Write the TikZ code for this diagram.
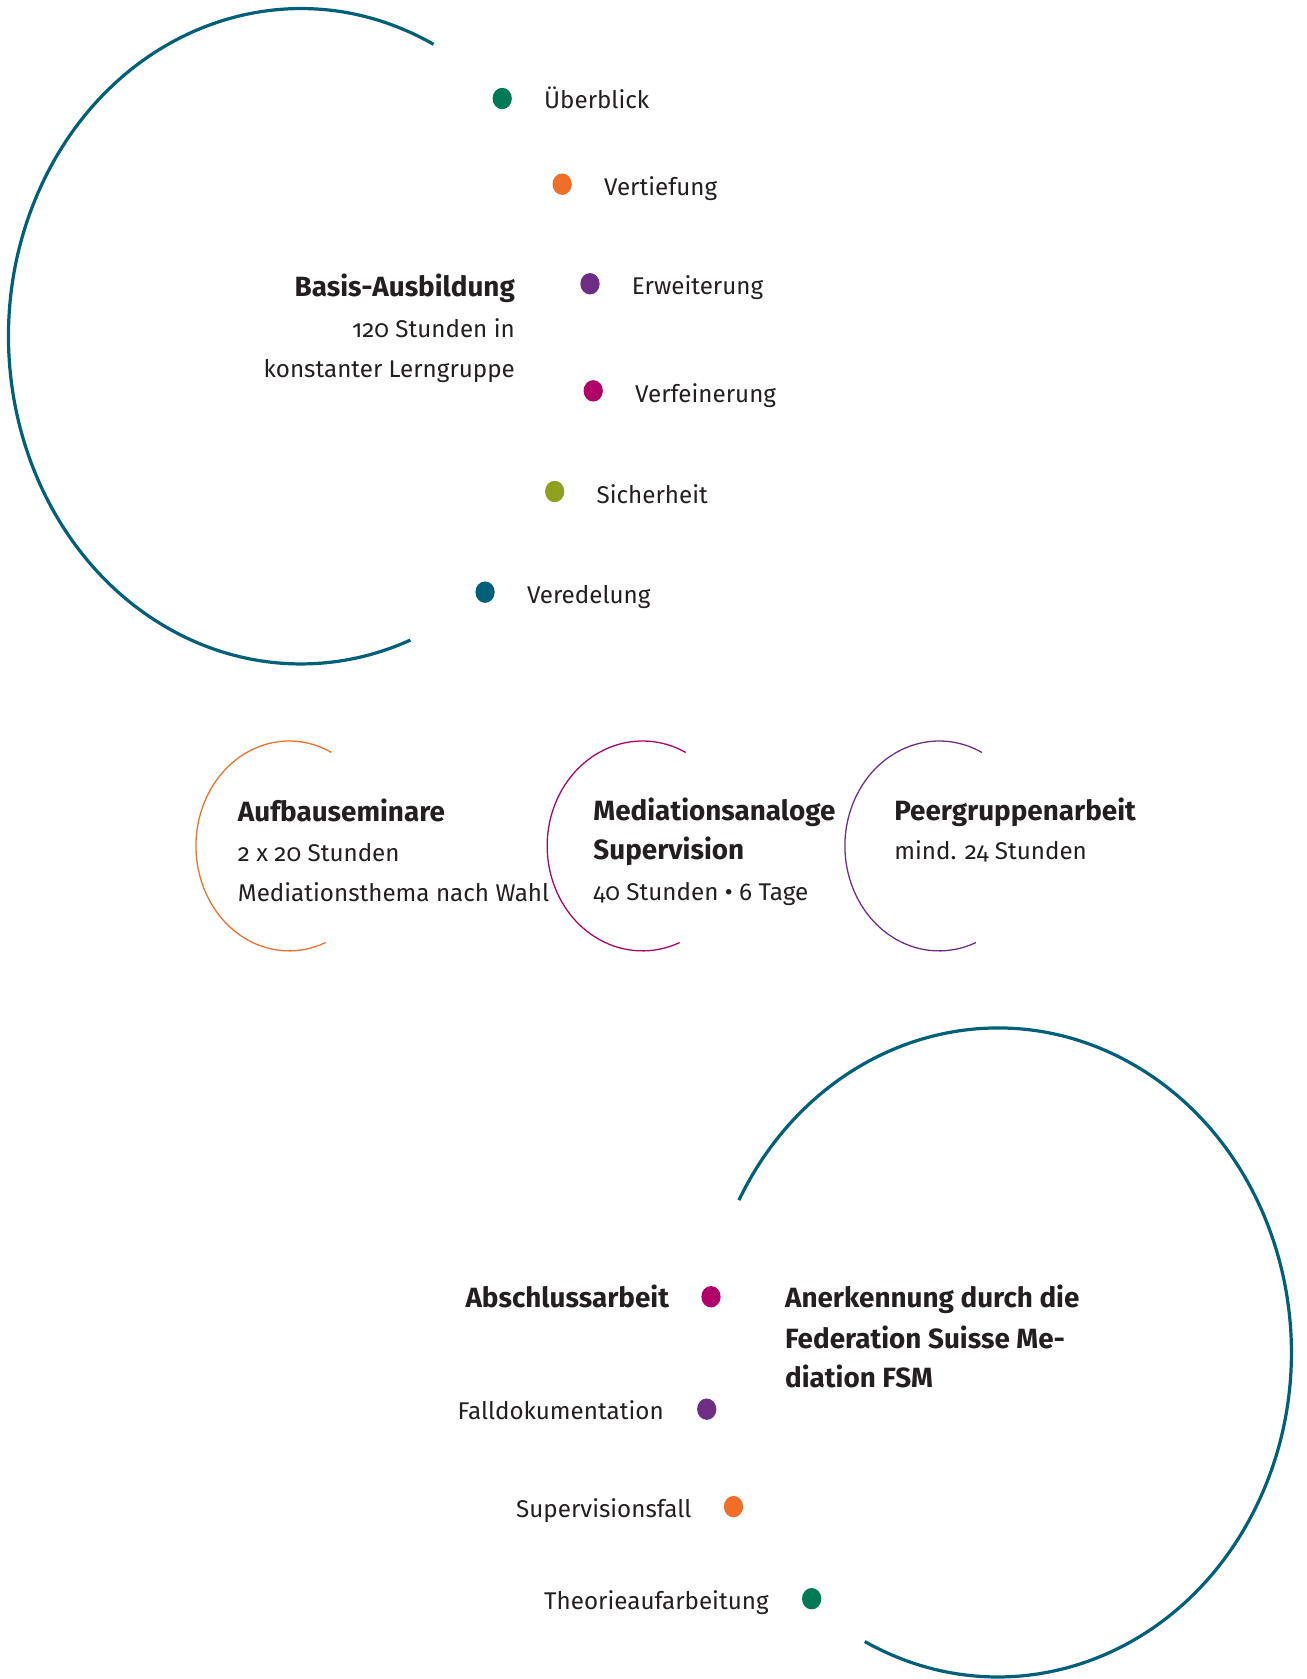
\documentclass[tikz,border=0pt]{standalone}
\usepackage{fontspec}
\setmainfont{Fira Sans}[Numbers=OldStyle]
\usetikzlibrary{shapes.geometric}
\definecolor{teal1}{RGB}{0,96,122}
\definecolor{dgreen}{RGB}{0,122,84}
\definecolor{dorange}{RGB}{240,110,40}
\definecolor{dpurple}{RGB}{110,46,134}
\definecolor{dmagenta}{RGB}{176,0,106}
\definecolor{dolive}{RGB}{143,160,30}
\definecolor{txt}{RGB}{35,31,32}
\tikzset{
  bigarc/.style={draw=teal1, line width=3pt},
  smallarc/.style={line width=1.2pt},
  dot/.style={ellipse, minimum width=18pt, minimum height=20pt, inner sep=0pt, draw=none},
  lbl/.style={anchor=base west, inner sep=0pt, text=txt, font=\fontsize{22.6}{26}\selectfont},
  lblr/.style={anchor=base east, inner sep=0pt, text=txt, font=\fontsize{22.6}{26}\selectfont},
  head/.style={anchor=base west, inner sep=0pt, text=txt, font=\fontsize{26}{30}\selectfont\bfseries},
  headr/.style={anchor=base east, inner sep=0pt, text=txt, font=\fontsize{26}{30}\selectfont\bfseries},
}
\begin{document}
\begin{tikzpicture}[x=1pt,y=1pt]
\useasboundingbox (0,0) rectangle (1220,-1568);
% big arcs
\draw[bigarc] (404.9,-41.4) arc[start angle=63, end angle=292, x radius=273, y radius=306];
\draw[bigarc] (807.6,-1533) arc[start angle=-117, end angle=152, x radius=274, y radius=303];
% small arcs
\draw[smallarc, draw=dorange] (309.5,-702.7) arc[start angle=63, end angle=293, x radius=87, y radius=98];
\draw[smallarc, draw=dmagenta] (640.4,-702.7) arc[start angle=63, end angle=293, x radius=89, y radius=98];
\draw[smallarc, draw=dpurple] (917,-702.7) arc[start angle=63, end angle=293, x radius=88, y radius=98];
% top group
\node[dot, fill=dgreen] (d1) at (469,-92) {};
\node[lbl] (t1) at (508,-101) {Überblick};
\node[dot, fill=dorange] (d2) at (525,-172) {};
\node[lbl] (t2) at (564,-183) {Vertiefung};
\node[dot, fill=dpurple] (d3) at (551,-265) {};
\node[lbl] (t3) at (590,-275) {Erweiterung};
\node[dot, fill=dmagenta] (d4) at (554,-365) {};
\node[lbl] (t4) at (593,-376) {Verfeinerung};
\node[dot, fill=dolive] (d5) at (518,-459) {};
\node[lbl] (t5) at (557,-470) {Sicherheit};
\node[dot, fill=teal1] (d6) at (453,-553) {};
\node[lbl] (t6) at (492,-564) {Veredelung};
\node[headr] (b1) at (481,-277) {Basis-Ausbildung};
\node[lblr] (b2) at (481,-315) {120 Stunden in};
\node[lblr] (b3) at (481,-353) {konstanter Lerngruppe};
% middle group
\node[head] (a1) at (222,-767) {Aufbauseminare};
\node[lbl] (a2) at (222,-805) {2 x 20 Stunden};
\node[lbl] (a3) at (222,-842) {Mediationsthema nach Wahl};
\node[head] (m1) at (554,-766) {Mediationsanaloge};
\node[head] (m2) at (554,-803) {Supervision};
\node[lbl] (m3) at (554,-841) {40 Stunden • 6 Tage};
\node[head] (p1) at (835,-766) {Peergruppenarbeit};
\node[lbl] (p2) at (835,-803) {mind. 24 Stunden};
% bottom group
\node[headr] (e1) at (625,-1221) {Abschlussarbeit};
\node[dot, fill=dmagenta] (e1d) at (664,-1211) {};
\node[head] (f1) at (733,-1221) {Anerkennung durch die};
\node[head] (f2) at (733,-1259) {Federation Suisse Me-};
\node[head] (f3) at (733,-1296) {diation FSM};
\node[lblr] (e2) at (620,-1326) {Falldokumentation};
\node[dot, fill=dpurple] (e2d) at (660,-1316) {};
\node[lblr] (e3) at (646,-1417) {Supervisionsfall};
\node[dot, fill=dorange] (e3d) at (685,-1407) {};
\node[lblr] (e4) at (718,-1503) {Theorieaufarbeitung};
\node[dot, fill=dgreen] (e4d) at (758,-1493) {};
\end{tikzpicture}
\end{document}
